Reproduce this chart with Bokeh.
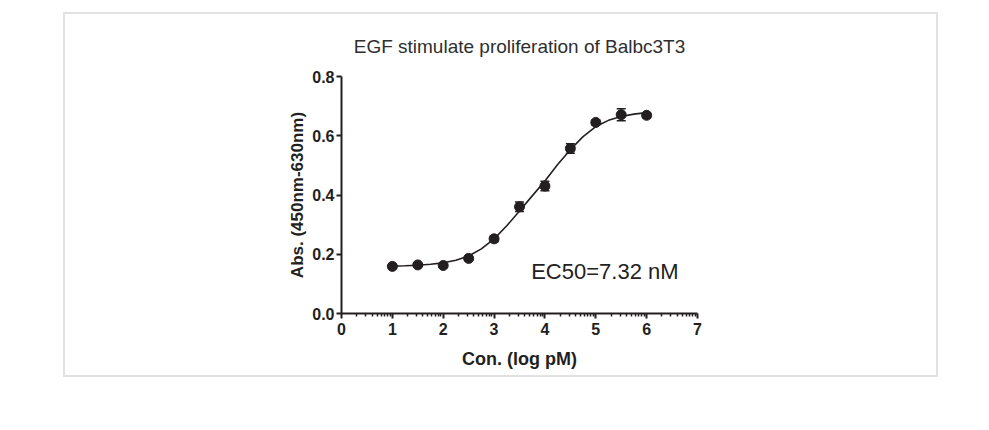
import math
from bokeh.plotting import figure
from bokeh.models import (ColumnDataSource, FixedTicker, Whisker, Label,
                          PrintfTickFormatter, Range1d)
from bokeh.embed import file_html
from bokeh.resources import INLINE

# ---- data ----
log_conc = [1.0, 1.5, 2.0, 2.5, 3.0, 3.5, 4.0, 4.5, 5.0, 5.5, 6.0]
absorb = [0.159, 0.164, 0.162, 0.186, 0.252, 0.360, 0.430, 0.557, 0.645, 0.671, 0.669]
err = [0.005, 0.005, 0.006, 0.006, 0.010, 0.016, 0.016, 0.016, 0.008, 0.020, 0.008]

fit_x = [1.0, 1.25, 1.5, 1.75, 2.0, 2.25, 2.5, 2.75, 3.0, 3.25, 3.5, 3.75,
         4.0, 4.25, 4.5, 4.75, 5.0, 5.25, 5.5, 5.75, 6.0]
fit_y = [0.160, 0.161, 0.163, 0.166, 0.171, 0.180, 0.194, 0.218, 0.252, 0.296,
         0.346, 0.397, 0.447, 0.503, 0.553, 0.597, 0.631, 0.652, 0.665, 0.673, 0.678]

x_ticks = [0, 1, 2, 3, 4, 5, 6, 7]
y_ticks = [0.0, 0.2, 0.4, 0.6, 0.8]

title_text = "EGF stimulate proliferation of Balbc3T3"
x_label = "Con. (log pM)"
y_label = "Abs. (450nm-630nm)"
ec50_text = "EC50=7.32 nM"

FONT = "Liberation Sans"
INK = "#231f20"

p = figure(width=875, height=365, output_backend="svg", toolbar_location=None,
           x_range=Range1d(0, 7), y_range=Range1d(0, 0.8),
           min_border_left=276, min_border_right=243,
           min_border_top=60, min_border_bottom=66,
           margin=(12, 0, 0, 63),
           styles={"border": "2px solid #e2e2e2", "box-sizing": "border-box"})
p.outline_line_color = None
p.xgrid.visible = False
p.ygrid.visible = False
p.background_fill_color = "white"
p.border_fill_color = "white"

# title
p.title.text = title_text
p.title.align = "center"
p.title.text_font = FONT
p.title.text_font_size = "19px"
p.title.text_font_style = "normal"
p.title.text_color = "#2e2e2e"
p.title.standoff = 39

# axes
minor = [n + math.log10(k) for n in range(7) for k in range(2, 10)]
p.xaxis.ticker = FixedTicker(ticks=x_ticks, minor_ticks=minor)
p.yaxis.ticker = FixedTicker(ticks=y_ticks, minor_ticks=[])
p.yaxis.formatter = PrintfTickFormatter(format="%.1f")
for ax in (p.xaxis[0], p.yaxis[0]):
    ax.axis_line_width = 2
    ax.axis_line_color = INK
    ax.major_tick_line_color = INK
    ax.major_tick_line_width = 2
    ax.major_tick_in = 0
    ax.major_tick_out = 5
    ax.minor_tick_line_color = INK
    ax.minor_tick_line_width = 1.5
    ax.minor_tick_in = 0
    ax.minor_tick_out = 3
    ax.major_label_text_font = FONT
    ax.major_label_text_font_style = "bold"
    ax.major_label_text_font_size = "16px"
    ax.major_label_text_color = INK
    ax.axis_label_text_font = FONT
    ax.axis_label_text_font_style = "bold"
    ax.axis_label_text_color = INK
p.xaxis.axis_label = x_label
p.yaxis.axis_label = y_label
p.xaxis.axis_label_text_font_size = "18px"
p.yaxis.axis_label_text_font_size = "17px"
p.xaxis.major_label_standoff = 4
p.yaxis.major_label_standoff = 2
p.xaxis.axis_label_standoff = 11
p.yaxis.axis_label_standoff = 2

# fitted curve
p.line(fit_x, fit_y, line_color=INK, line_width=1.6)

# error bars
src = ColumnDataSource(dict(x=log_conc, y=absorb,
                            lo=[a - e for a, e in zip(absorb, err)],
                            hi=[a + e for a, e in zip(absorb, err)]))
w = Whisker(source=src, base="x", lower="lo", upper="hi",
            line_color=INK, line_width=1.5)
w.upper_head.size = 9
w.lower_head.size = 9
w.upper_head.line_color = INK
w.lower_head.line_color = INK
w.upper_head.line_width = 1.5
w.lower_head.line_width = 1.5
p.add_layout(w)

# points
p.scatter("x", "y", source=src, size=10, fill_color=INK, line_color=INK)

# EC50 annotation
p.add_layout(Label(x=3.73, y=0.142, text=ec50_text, text_font=FONT,
                   text_font_size="22px", text_color="#222222",
                   text_baseline="alphabetic"))

open("out.html", "w").write(file_html(p, INLINE))
